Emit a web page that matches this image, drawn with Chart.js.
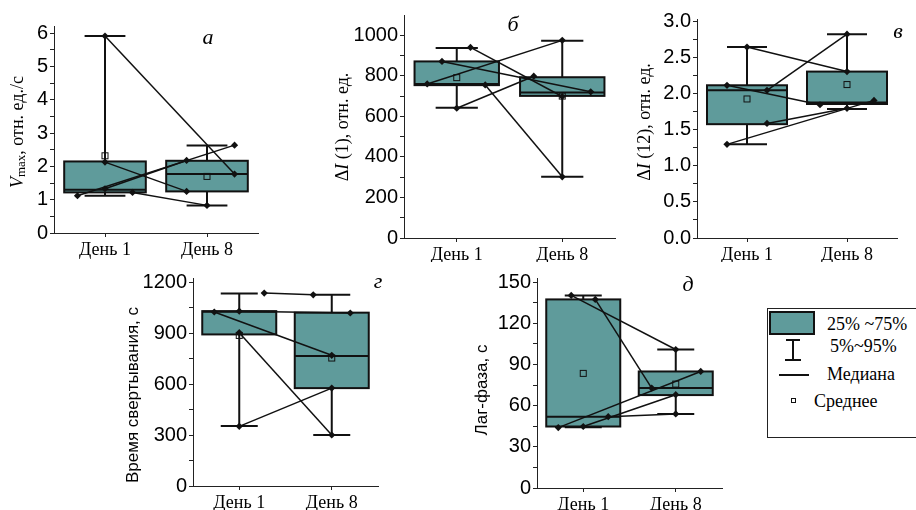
<!DOCTYPE html>
<html><head><meta charset="utf-8">
<script src="https://cdn.jsdelivr.net/npm/chart.js@4.4.1/dist/chart.umd.min.js"></script>
<style>
html,body{margin:0;padding:0;background:#fff;}
body{width:916px;height:510px;position:relative;overflow:hidden;font-family:"Liberation Serif",serif;}
canvas{position:absolute;}
#legend{position:absolute;left:767px;top:308px;width:160px;height:130px;border:1px solid #222;box-sizing:border-box;}
#legend .sw{position:absolute;left:1px;top:2px;width:46px;height:24px;background:#5f9b9b;border:2px solid #111;box-sizing:border-box;}
#legend .t{position:absolute;font-size:18px;line-height:20px;white-space:nowrap;color:#000;}
#legend .ln{position:absolute;background:#111;}
#legend .mn{position:absolute;width:5px;height:5px;border:1px solid #111;box-sizing:border-box;}
</style></head><body>
<canvas id="cA"></canvas>
<canvas id="cB"></canvas>
<canvas id="cV"></canvas>
<canvas id="cG"></canvas>
<canvas id="cD"></canvas>
<div id="legend">
  <div class="sw"></div>
  <div class="t" style="left:59px;top:5px">25% ~75%</div>
  <div class="ln" style="left:24px;top:30px;width:2px;height:21px"></div>
  <div class="ln" style="left:18px;top:30px;width:14px;height:2px"></div>
  <div class="ln" style="left:17px;top:50px;width:16px;height:2px"></div>
  <div class="t" style="left:62px;top:27px">5%~95%</div>
  <div class="ln" style="left:11px;top:65px;width:30px;height:2px"></div>
  <div class="t" style="left:59px;top:55px">Медиана</div>
  <div class="mn" style="left:23px;top:89px"></div>
  <div class="t" style="left:46px;top:82px">Среднее</div>
</div>
<script>
// ---------- data ----------
const days = ['День 1', 'День 8'];

// а: Vmax
const vmaxTicks = [0, 1, 2, 3, 4, 5, 6];
const vmaxQ1 = [1.22, 1.25], vmaxQ3 = [2.15, 2.17], vmaxMedian = [1.30, 1.77], vmaxMean = [2.32, 1.70];
const vmaxP5 = [1.12, 0.83], vmaxP95 = [5.92, 2.63];
const vmaxDay1 = [5.92, 2.13, 1.12, 1.33, 1.22];
const vmaxDay8 = [1.77, 1.25, 2.64, 2.18, 0.83];
const vmaxJit1 = [0, 0, -0.27, 0, 0.27];
const vmaxJit8 = [0.27, -0.2, 0.27, -0.2, 0];

// б: ΔI(1)
const di1Ticks = [0, 200, 400, 600, 800, 1000];
const di1Q1 = [754, 701], di1Q3 = [871, 793], di1Median = [760, 718], di1Mean = [791, 700];
const di1P5 = [642, 302], di1P95 = [937, 973];
const di1Day1 = [760, 871, 940, 640, 755];
const di1Day8 = [975, 721, 698, 798, 302];
const di1Jit1 = [-0.28, -0.14, 0.13, 0, 0.27];
const di1Jit8 = [0, 0.27, 0, -0.27, 0];

// в: ΔI(12)
const di12Ticks = [0, 0.5, 1.0, 1.5, 2.0, 2.5, 3.0];
const di12Q1 = [1.58, 1.86], di12Q3 = [2.12, 2.31], di12Median = [2.05, 1.88], di12Mean = [1.93, 2.13];
const di12P5 = [1.30, 1.79], di12P95 = [2.65, 2.83];
const di12Day1 = [2.65, 2.05, 2.12, 1.59, 1.30];
const di12Day8 = [2.31, 2.83, 1.85, 1.80, 1.91];
const di12Jit1 = [0, 0.2, -0.2, 0.2, -0.2];
const di12Jit8 = [0, 0, -0.27, 0, 0.27];

// г: Время свертывания
const clotTicks = [0, 300, 600, 900, 1200];
const clotQ1 = [892, 576], clotQ3 = [1029, 1020], clotMedian = [1025, 765], clotMean = [886, 753];
const clotP5 = [353, 300], clotP95 = [1133, 1125];
const clotDay1 = [1135, 1024, 902, 351, 1029];
const clotDay8 = [1125, 769, 300, 576, 1018];
const clotJit1 = [0.27, -0.27, 0, 0, 0];
const clotJit8 = [-0.2, 0, 0, 0, 0.2];

// д: Лаг-фаза
const lagTicks = [0, 30, 60, 90, 120, 150];
const lagQ1 = [44.8, 67.7], lagQ3 = [137.4, 84.9], lagMedian = [52, 72.8], lagMean = [83.5, 75.7];
const lagP5 = [44.3, 54], lagP95 = [140.3, 100.9];
const lagDay1 = [140.3, 137.4, 44, 44.8, 52];
const lagDay8 = [100.9, 72.8, 84.9, 68, 54];
const lagJit1 = [-0.13, 0.13, -0.27, 0, 0.27];
const lagJit8 = [0, -0.26, 0.27, 0, 0];

// ---------- drawing ----------
const TEAL = '#5f9b9b';
const SERIF = '"Liberation Serif", "Times New Roman", serif';
const SANS = '"Liberation Sans", Arial, sans-serif';

function drawRotated(ctx, segs, cx, cy) {
  ctx.save();
  ctx.translate(cx, cy);
  ctx.rotate(-Math.PI / 2);
  let total = 0;
  segs.forEach(s => { ctx.font = s.font; s.w = ctx.measureText(s.t).width; total += s.w; });
  let x = -total / 2;
  ctx.textBaseline = 'middle'; ctx.textAlign = 'left'; ctx.fillStyle = '#000';
  segs.forEach(s => { ctx.font = s.font; ctx.fillText(s.t, x, s.dy || 0); x += s.w; });
  ctx.restore();
}

const boxPlugin = {
  id: 'boxes',
  beforeDatasetsDraw(chart, args, o) {
    const { ctx } = chart, xs = chart.scales.x, ys = chart.scales.y;
    ctx.save();
    for (let i = 0; i < 2; i++) {
      const c = i + 1;
      const X = v => xs.getPixelForValue(v), Y = v => ys.getPixelForValue(v);
      const xc = X(c), xl = X(c - 0.4), xr = X(c + 0.4), cl = X(c - 0.2), cr = X(c + 0.2);
      ctx.strokeStyle = '#111'; ctx.lineWidth = 2;
      ctx.beginPath();
      ctx.moveTo(xc, Y(o.p95[i])); ctx.lineTo(xc, Y(o.q3[i]));
      ctx.moveTo(xc, Y(o.q1[i])); ctx.lineTo(xc, Y(o.p5[i]));
      ctx.moveTo(cl, Y(o.p95[i])); ctx.lineTo(cr, Y(o.p95[i]));
      ctx.moveTo(cl, Y(o.p5[i])); ctx.lineTo(cr, Y(o.p5[i]));
      ctx.stroke();
      const top = Y(o.q3[i]), bot = Y(o.q1[i]);
      ctx.fillStyle = TEAL;
      ctx.fillRect(xl, top, xr - xl, bot - top);
      ctx.strokeRect(xl, top, xr - xl, bot - top);
      ctx.beginPath();
      ctx.moveTo(xl, Y(o.med[i])); ctx.lineTo(xr, Y(o.med[i]));
      ctx.stroke();
      const my = Y(o.mean[i]);
      ctx.lineWidth = 1;
      ctx.strokeRect(xc - 3, my - 3, 6, 6);
    }
    ctx.restore();
  },
  afterDraw(chart, args, o) {
    const { ctx } = chart;
    drawRotated(ctx, o.title, o.titlePos[0], o.titlePos[1]);
    ctx.save();
    ctx.font = 'italic 22px ' + SERIF;
    ctx.fillStyle = '#000'; ctx.textAlign = 'center'; ctx.textBaseline = 'middle';
    ctx.fillText(o.letter, o.letterPos[0], o.letterPos[1]);
    ctx.restore();
  }
};

function makePanel(id, cv, ca, yMax, ticks, minorStep, fmt, box, d1, d8, j1, j8, title, titlePos, letter, letterPos) {
  const el = document.getElementById(id);
  el.width = cv[2]; el.height = cv[3];
  el.style.left = cv[0] + 'px'; el.style.top = cv[1] + 'px';
  el.style.width = cv[2] + 'px'; el.style.height = cv[3] + 'px';
  const yW = ca[0] - cv[0];
  const xH = cv[1] + cv[3] - ca[3];
  const padT = ca[1] - cv[1];
  const padR = cv[0] + cv[2] - ca[2];
  const major = ticks[1] - ticks[0];
  const datasets = d1.map((v, k) => ({
    data: [{ x: 1 + j1[k], y: v }, { x: 2 + j8[k], y: d8[k] }],
    showLine: true, borderColor: '#111', borderWidth: 1.5,
    pointStyle: 'rectRot', pointRadius: 3.6, pointBackgroundColor: '#111', pointBorderColor: '#111', pointBorderWidth: 0,
    clip: false
  }));
  return new Chart(el, {
    type: 'scatter',
    data: { datasets },
    plugins: [boxPlugin],
    options: {
      responsive: false, animation: false, devicePixelRatio: 1, events: [],
      layout: { padding: { left: 0, top: padT, right: padR, bottom: 0 } },
      plugins: {
        legend: { display: false }, tooltip: { enabled: false },
        boxes: { ...box, title, titlePos: [titlePos[0] - cv[0], titlePos[1] - cv[1]], letter, letterPos: [letterPos[0] - cv[0], letterPos[1] - cv[1]] }
      },
      scales: {
        x: {
          type: 'linear', min: 0.5, max: 2.5,
          afterBuildTicks: s => { s.ticks = [{ value: 1 }, { value: 2 }]; },
          afterFit: s => { s.height = xH; },
          ticks: { autoSkip: false, maxRotation: 0, font: { family: SERIF, size: 18 }, color: '#000', padding: 2,
            callback: (v, i) => days[i] },
          grid: { display: true, drawOnChartArea: false, drawTicks: true, tickLength: 4, color: '#222' },
          border: { display: true, color: '#222', width: 1 }
        },
        y: {
          type: 'linear', min: 0, max: yMax,
          afterBuildTicks: s => {
            const arr = [];
            const last = ticks[ticks.length - 1];
            for (let v = 0; v <= last + 1e-9; v += minorStep) arr.push({ value: Math.round(v * 1000) / 1000 });
            s.ticks = arr;
          },
          afterFit: s => { s.width = yW; },
          ticks: { autoSkip: false, font: { family: SANS, size: 20 }, color: '#000', padding: 2,
            callback: v => { const r = v / major; return Math.abs(r - Math.round(r)) < 1e-6 ? fmt(v) : ''; } },
          grid: { display: true, drawOnChartArea: false, drawTicks: true, tickLength: 4, color: '#222' },
          border: { display: true, color: '#222', width: 1 }
        }
      }
    }
  });
}

makePanel('cA', [0, 0, 300, 262], [54, 26, 258, 233], 6.22, vmaxTicks, 0.5, v => String(v),
  { q1: vmaxQ1, q3: vmaxQ3, med: vmaxMedian, mean: vmaxMean, p5: vmaxP5, p95: vmaxP95 },
  vmaxDay1, vmaxDay8, vmaxJit1, vmaxJit8,
  [{ t: 'V', font: 'italic 18px ' + SERIF }, { t: 'max', font: '13px ' + SERIF, dy: 4 }, { t: ', отн. ед./с', font: '18px ' + SERIF }],
  [18, 132], 'а', [208, 38]);

makePanel('cB', [300, 0, 330, 262], [404, 15, 615, 238], 1100, di1Ticks, 100, v => String(v),
  { q1: di1Q1, q3: di1Q3, med: di1Median, mean: di1Mean, p5: di1P5, p95: di1P95 },
  di1Day1, di1Day8, di1Jit1, di1Jit8,
  [{ t: 'Δ', font: '18px ' + SERIF }, { t: 'I', font: 'italic 18px ' + SERIF }, { t: ' (1), отн. ед.', font: '18px ' + SERIF }],
  [343, 127], 'б', [513, 25]);

makePanel('cV', [630, 0, 286, 262], [697, 19, 897, 238], 3.04, di12Ticks, 0.25, v => v.toFixed(1),
  { q1: di12Q1, q3: di12Q3, med: di12Median, mean: di12Mean, p5: di12P5, p95: di12P95 },
  di12Day1, di12Day8, di12Jit1, di12Jit8,
  [{ t: 'Δ', font: '18px ' + SERIF }, { t: 'I', font: 'italic 18px ' + SERIF }, { t: ' (12), отн. ед.', font: '18px ' + SERIF }],
  [645, 122], 'в', [898, 32]);

makePanel('cG', [100, 262, 300, 248], [193, 278, 378, 486], 1224, clotTicks, 150, v => String(v),
  { q1: clotQ1, q3: clotQ3, med: clotMedian, mean: clotMean, p5: clotP5, p95: clotP95 },
  clotDay1, clotDay8, clotJit1, clotJit8,
  [{ t: 'Время свертывания, с', font: '17px ' + SANS }],
  [133, 395], 'г', [378, 282]);

makePanel('cD', [440, 262, 320, 248], [537, 278, 722, 488], 153, lagTicks, 15, v => String(v),
  { q1: lagQ1, q3: lagQ3, med: lagMedian, mean: lagMean, p5: lagP5, p95: lagP95 },
  lagDay1, lagDay8, lagJit1, lagJit8,
  [{ t: 'Лаг-фаза, с', font: '17px ' + SANS }],
  [482, 390], 'д', [688, 285]);
</script>
</body></html>
